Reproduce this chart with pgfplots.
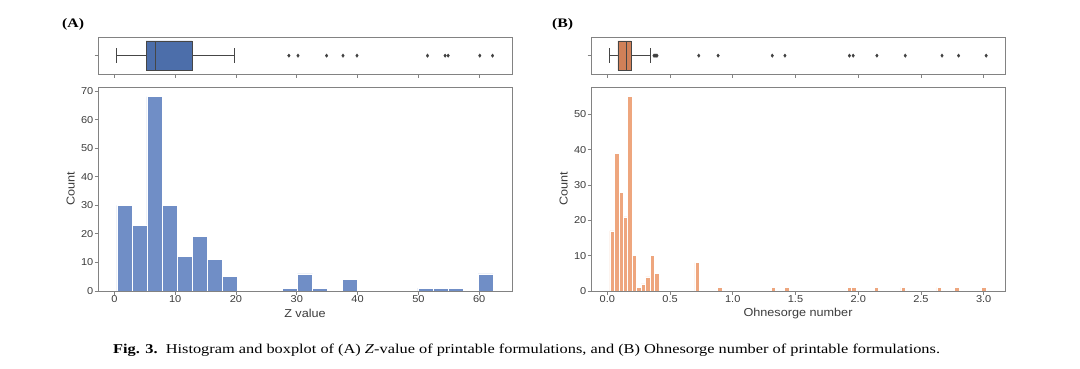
\documentclass[border=0pt]{standalone}
\usepackage{fontspec}
\setmainfont{Liberation Serif}
\setsansfont{Liberation Sans}
\newfontfamily\axfont[FakeStretch=1.1]{Liberation Sans}
\newfontfamily\capfont[FakeStretch=1.21]{Liberation Serif}
\usepackage{pgfplots}
\pgfplotsset{compat=1.18}
\definecolor{histA}{RGB}{112,142,198}
\definecolor{boxA}{RGB}{76,110,170}
\definecolor{histB}{RGB}{238,166,126}
\definecolor{boxB}{RGB}{208,128,88}
\definecolor{framegray}{RGB}{130,130,130}
\definecolor{labelgray}{RGB}{60,60,60}
\definecolor{boxline}{RGB}{70,70,70}
\begin{document}
\begin{tikzpicture}[x=1pt,y=1pt]
\path[use as bounding box] (0,0) rectangle (1080,368);
\pgfplotsset{
  base/.style={
    scale only axis, width=414pt,
    axis line style={draw=framegray, line width=1pt},
    tick style={draw=framegray, line width=0.8pt},
    tick align=outside, major tick length=3.5pt,
    xtick pos=bottom, ytick pos=left,
    ticklabel style={font=\axfont\fontsize{10}{12}\selectfont, text=labelgray, inner sep=1pt},
    /pgf/number format/assume math mode=true,
    label style={font=\axfont\fontsize{11.5}{13}\selectfont, text=labelgray},
    axis on top,
    anchor=south west,
  },
  histo/.style={base, height=204pt, ymin=0,
    xlabel style={at={(axis description cs:0.5,-0.11)}, anchor=center},
    ylabel style={at={(axis description cs:-0.066,0.5)}, anchor=center},
  },
  boxax/.style={base, height=36.7pt, ymin=-0.5, ymax=0.5, ytick={0}, yticklabels={}, xticklabels={}},
  flier/.style={only marks, mark=diamond*, mark size=1.7pt, mark options={draw=black!75, fill=black!75}},
  bline/.style={draw=boxline, line width=0.9pt},
}
% ---------- Panel A boxplot ----------
\begin{axis}[boxax, at={(98pt,294pt)}, xmin=-2.7, xmax=65.4, xtick={0,10,...,60}]
\addplot[bline] coordinates {(0.4,0) (5.2,0)};
\addplot[bline] coordinates {(12.8,0) (19.7,0)};
\addplot[bline] coordinates {(0.4,-0.2) (0.4,0.2)};
\addplot[bline] coordinates {(19.7,-0.2) (19.7,0.2)};
\addplot[bline, fill=boxA] coordinates {(5.2,-0.4) (12.8,-0.4) (12.8,0.4) (5.2,0.4) (5.2,-0.4)};
\addplot[bline] coordinates {(6.75,-0.4) (6.75,0.4)};
\addplot[flier] coordinates {(28.7,0) (30.2,0) (34.9,0) (37.6,0) (39.9,0) (51.5,0) (54.4,0) (54.9,0) (60.1,0) (62.2,0)};
\end{axis}
% ---------- Panel A histogram ----------
\begin{axis}[histo, at={(98pt,77pt)}, xmin=-2.7, xmax=65.4, ymax=71.4,
  xtick={0,10,...,60}, ytick={0,10,...,70}, xlabel={Z value}, ylabel={Count}]
\addplot[ybar, bar width=2.476, fill=histA, draw=white, line width=0.6pt] coordinates {
(1.638,30) (4.114,23) (6.590,68) (9.066,30) (11.542,12) (14.018,19) (16.494,11) (18.970,5)
(28.874,1) (31.350,6) (33.826,1) (38.778,4) (51.158,1) (53.634,1) (56.110,1) (61.062,6)};
\end{axis}
% ---------- Panel B boxplot ----------
\begin{axis}[boxax, at={(591pt,294pt)}, xmin=-0.13, xmax=3.17, xtick={0,0.5,...,3}]
\addplot[bline] coordinates {(0.02,0) (0.085,0)};
\addplot[bline] coordinates {(0.19,0) (0.346,0)};
\addplot[bline] coordinates {(0.02,-0.2) (0.02,0.2)};
\addplot[bline] coordinates {(0.346,-0.2) (0.346,0.2)};
\addplot[bline, fill=boxB] coordinates {(0.085,-0.4) (0.19,-0.4) (0.19,0.4) (0.085,0.4) (0.085,-0.4)};
\addplot[bline] coordinates {(0.152,-0.4) (0.152,0.4)};
\addplot[flier] coordinates {(0.372,0) (0.380,0) (0.388,0) (0.396,0) (0.729,0) (0.883,0) (1.315,0) (1.416,0) (1.930,0) (1.960,0) (2.149,0) (2.375,0) (2.668,0) (2.800,0) (3.020,0)};
\end{axis}
% ---------- Panel B histogram ----------
\begin{axis}[histo, at={(591pt,77pt)}, xmin=-0.13, xmax=3.17, ymax=57.75,
  xtick={0,0.5,...,3}, ytick={0,10,...,50},
  xticklabel style={/pgf/number format/.cd, fixed, fixed zerofill, precision=1},
  xlabel={Ohnesorge number}, ylabel={Count}]
\addplot[ybar, bar width=0.0357, fill=histB, draw=white, line width=0.5pt] coordinates {
(0.0379,17) (0.0736,39) (0.1093,28) (0.1450,21) (0.1807,55) (0.2164,10) (0.2521,1) (0.2878,2)
(0.3235,4) (0.3592,10) (0.3949,5) (0.7162,8) (0.8947,1) (1.3231,1) (1.4302,1) (1.9300,1)
(1.9657,1) (2.1442,1) (2.3584,1) (2.6440,1) (2.7868,1) (3.0010,1)};
\end{axis}
% ---------- Panel letters and caption ----------
\node[anchor=west, inner sep=0] at (62,344) {\capfont\fontsize{13}{15}\selectfont\textbf{(A)}};
\node[anchor=west, inner sep=0] at (552,344) {\capfont\fontsize{13}{15}\selectfont\textbf{(B)}};
\node[anchor=west, inner sep=0] at (113,18) {\capfont\fontsize{13.5}{15}\selectfont\textbf{Fig. 3.}\ \ Histogram and boxplot of (A) \textit{Z}-value of printable formulations, and (B) Ohnesorge number of printable formulations.};
\end{tikzpicture}
\end{document}
